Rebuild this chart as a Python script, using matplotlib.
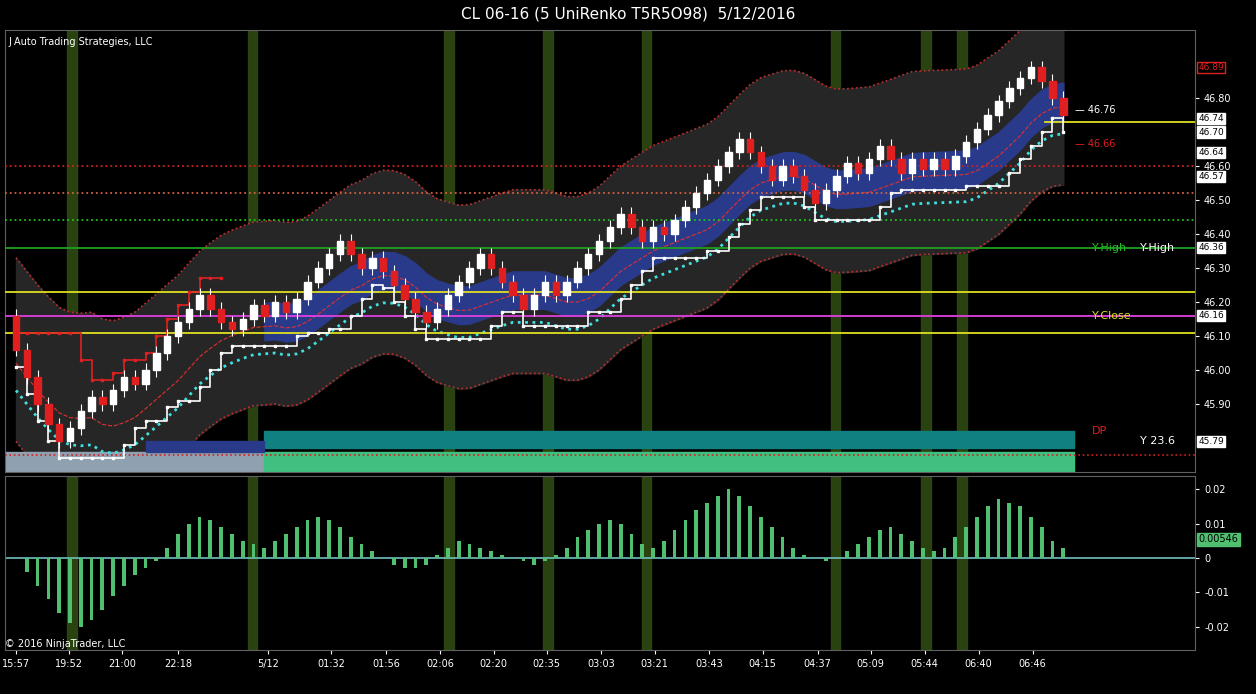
import matplotlib.pyplot as plt
import numpy as np
import pandas as pd

# renko closes per bar, open = previous close
first_open = 46.16
closes = [46.06, 45.98, 45.90, 45.84, 45.79, 45.83, 45.88, 45.92, 45.90, 45.94,
          45.98, 45.96, 46.00, 46.05, 46.10, 46.14, 46.18, 46.22, 46.18, 46.14,
          46.12, 46.15, 46.19, 46.16, 46.20, 46.17, 46.21, 46.26, 46.30, 46.34,
          46.38, 46.34, 46.30, 46.33, 46.29, 46.25, 46.21, 46.17, 46.14, 46.18,
          46.22, 46.26, 46.30, 46.34, 46.30, 46.26, 46.22, 46.18, 46.22, 46.26,
          46.22, 46.26, 46.30, 46.34, 46.38, 46.42, 46.46, 46.42, 46.38, 46.42,
          46.40, 46.44, 46.48, 46.52, 46.56, 46.60, 46.64, 46.68, 46.64, 46.60,
          46.56, 46.60, 46.57, 46.53, 46.49, 46.53, 46.57, 46.61, 46.58, 46.62,
          46.66, 46.62, 46.58, 46.62, 46.59, 46.62, 46.59, 46.63, 46.67, 46.71,
          46.75, 46.79, 46.83, 46.86, 46.89, 46.85, 46.80, 46.75]

osc = [0.0, -0.004, -0.008, -0.012, -0.016, -0.019, -0.020, -0.018, -0.015, -0.011,
       -0.008, -0.005, -0.003, -0.001,
       0.003, 0.007, 0.010, 0.012, 0.011, 0.009, 0.007, 0.005, 0.004, 0.003,
       0.005, 0.007, 0.009, 0.011, 0.012, 0.011, 0.009, 0.006,
       0.004, 0.002, 0.000, -0.002, -0.003, -0.003, -0.002, 0.001,
       0.003, 0.005, 0.004, 0.003, 0.002, 0.001, 0.000, -0.001, -0.002,
       -0.001, 0.001, 0.003, 0.006, 0.008, 0.010, 0.011, 0.010, 0.007, 0.004,
       0.003, 0.005, 0.008, 0.011, 0.014, 0.016, 0.018, 0.020, 0.018, 0.015, 0.012,
       0.009, 0.006, 0.003, 0.001, 0.000, -0.001, 0.000, 0.002,
       0.004, 0.006, 0.008, 0.009, 0.007, 0.005, 0.003, 0.002, 0.003,
       0.006, 0.009, 0.012, 0.015, 0.017, 0.016, 0.015, 0.012, 0.009, 0.005, 0.003]

time_labels = ["15:57", "19:52", "21:00", "22:18", "", "5/12", "01:32", "01:56", "02:06", "02:20",
               "02:35", "03:03", "03:21", "03:43", "04:15", "04:37", "05:09", "05:44", "06:40", "06:46"]
label_px = [16, 69, 122, 178, 0, 268, 331, 386, 440, 494, 547, 601, 655, 709, 763, 818, 871, 925, 979, 1033]
session_bars = [5.2, 21.9, 40.1, 49.3, 58.4, 75.9, 84.3, 87.6]

levels = [(46.60, '#d02020', ':'), (46.52, '#d06040', ':'), (46.44, '#20c020', ':'),
          (46.36, '#20a020', '-'), (46.23, '#e0e020', '-'), (46.16, '#e040e0', '-'),
          (46.11, '#e0e020', '-')]
price_ticks = [45.9, 46.0, 46.1, 46.2, 46.3, 46.4, 46.5, 46.6, 46.8]
price_boxes = [46.89, 46.74, 46.70, 46.64, 46.57, 46.36, 46.16, 45.79]
box_colors = ['#e02020', 'white', 'white', 'white', 'white', 'white', 'white', 'white']

opens = [first_open] + closes[:-1]
n = len(closes)
idx = np.arange(n)
px = lambda p: (p - 16) / 10.8
XMIN, XMAX = -1.02, 109.2

fig = plt.figure(figsize=(12.56, 6.94), dpi=100, facecolor='black')
ax = fig.add_axes([5/1256, 1-472/694, 1190/1256, 442/694], facecolor='black')
ax2 = fig.add_axes([5/1256, 1-650/694, 1190/1256, 174/694], facecolor='black', sharex=ax)
fig.text(0.5, 0.98, "CL 06-16 (5 UniRenko T5R5O98)  5/12/2016", color='white', ha='center', va='center', fontsize=11)

for a in (ax, ax2):
    for b in session_bars:
        a.axvspan(b - 0.45, b + 0.45, color='#2e4a12', alpha=0.9, zorder=0)
    for s in a.spines.values():
        s.set_color('#606060')

# envelope bands
c = pd.Series(closes)
mid = c.rolling(8, min_periods=1).mean()
ax.fill_between(idx, mid - 0.27, mid + 0.27, color='#262626', zorder=1)
ax.plot(idx, mid + 0.27, color='#c03030', ls=':', lw=1.2, zorder=2)
ax.plot(idx, mid - 0.27, color='#c03030', ls=':', lw=1.2, zorder=2)
ax.fill_between(idx, mid - 0.08, mid + 0.03, where=idx > 22, color='#2a3a8a', zorder=2)
ax.plot(idx, mid - 0.04, color='#e03030', ls='--', lw=0.8, zorder=3)
ax.plot(idx, mid - 0.12, color='#40e0e0', ls=':', lw=2, zorder=3)

for lv, col, ls in levels:
    ax.axhline(lv, color=col, ls=ls, lw=1.3, zorder=3)

# trailing stops
low_stop = c.rolling(6, min_periods=1).min() - 0.05
ax.step(idx, low_stop, where='post', color='white', lw=1.2, marker='s', ms=2, zorder=4)
high_stop = c.rolling(6, min_periods=1).max() + 0.05
ax.step(idx[:20], high_stop[:20], where='post', color='#e02020', lw=1.2, marker='s', ms=2, zorder=4)

# bottom boxes
ax.fill_between([-1, 23], 45.70, 45.76, color='#8fa0b0', zorder=2)
ax.fill_between([23, 98], 45.70, 45.76, color='#40c080', zorder=2)
ax.fill_between([23, 98], 45.77, 45.82, color='#108080', zorder=2)
ax.fill_between([12, 23], 45.76, 45.79, color='#2a3a8a', zorder=2)
ax.axhline(45.75, color='#d02020', ls=':', lw=1.2, zorder=3)

# candles
for i in range(n):
    o, cl = opens[i], closes[i]
    col = 'white' if cl >= o else '#e02020'
    ax.vlines(i, min(o, cl) - 0.02, max(o, cl) + 0.02, color='white', lw=0.8, zorder=5)
    ax.bar(i, abs(cl - o), bottom=min(o, cl), width=0.6, color=col, edgecolor=col, zorder=6)

ax.set_ylim(45.70, 47.00)
ax.set_xlim(XMIN, XMAX)
ax.yaxis.tick_right()
ax.set_yticks(price_ticks)
ax.set_yticklabels([f"{t:.2f}" for t in price_ticks])
ax.tick_params(colors='white', labelsize=7, length=3)
ax.tick_params(axis='x', labelbottom=False, length=0)
for p, col in zip(price_boxes, box_colors):
    ax.annotate(f"{p:.2f}", xy=(1.003, (p - 45.70) / 1.30), xycoords='axes fraction', fontsize=6.5,
                color=col if col != 'white' else 'black', va='center', ha='left',
                bbox=dict(boxstyle='square,pad=0.12', fc='white' if col == 'white' else 'black', ec=col))

ax.text(px(1092), 46.36, "Y-High", color='#20c020', fontsize=8, va='center')
ax.text(px(1140), 46.36, "Y-High", color='white', fontsize=8, va='center')
ax.text(px(1092), 46.16, "Y-Close", color='#e0e020', fontsize=8, va='center')
ax.text(px(1092), 45.82, "DP", color='#e02020', fontsize=8, va='center')
ax.text(px(1140), 45.79, "Y 23.6", color='white', fontsize=8, va='center')
ax.text(px(1075), 46.765, "\u2014 46.76", color='white', fontsize=7, va='center')
ax.text(px(1075), 46.665, "\u2014 46.66", color='#e02020', fontsize=7, va='center')
ax.axhline(46.73, xmin=(px(1045) - XMIN) / (XMAX - XMIN), color='#e0e020', lw=1.3)
ax.text(0.003, 0.985, "J Auto Trading Strategies, LLC", transform=ax.transAxes, color='white', fontsize=7, va='top')

# oscillator
ax2.bar(idx, osc, width=0.35, color='#50c070', zorder=3)
ax2.axhline(0, color='#70c0c0', lw=1.2, zorder=2)
ax2.set_ylim(-0.0267, 0.0238)
ax2.yaxis.tick_right()
ax2.set_yticks([-0.02, -0.01, 0, 0.01, 0.02])
ax2.set_yticklabels(["-0.02", "-0.01", "0", "0.01", "0.02"])
ax2.tick_params(colors='white', labelsize=7, length=3)
ax2.annotate("0.00546", xy=(1.003, (0.00546 + 0.0267) / 0.0505), xycoords='axes fraction', fontsize=7,
             color='black', va='center', bbox=dict(boxstyle='square,pad=0.15', fc='#50c070', ec='#50c070'))
ax2.text(0.0, 0.02, "\u00a9 2016 NinjaTrader, LLC", transform=ax2.transAxes, color='white', fontsize=7)
ticks = [px(p) for p, t in zip(label_px, time_labels) if t]
ax2.set_xticks(ticks)
ax2.set_xticklabels([t for t in time_labels if t])
ax2.tick_params(axis='x', labelsize=7, length=3)

fig.savefig("out.png", dpi=100, facecolor='black')
